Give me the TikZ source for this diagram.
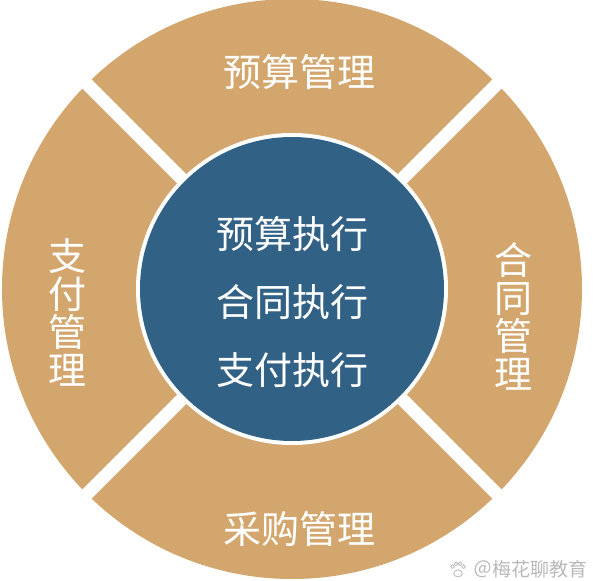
\documentclass[tikz,border=0pt]{standalone}
\usepackage{fontspec}
\newfontfamily\cjk{Noto Sans CJK SC}
\definecolor{tan}{RGB}{211,166,110}
\definecolor{deepblue}{RGB}{50,97,134}
\definecolor{wmgray}{RGB}{185,185,185}
\begin{document}
\begin{tikzpicture}[x=1pt,y=1pt,
  lbl/.style={text=white,font=\fontsize{38}{38}\selectfont\cjk,inner sep=0pt,align=center},
  mid/.style={text=white,font=\fontsize{38}{68}\selectfont\cjk,inner sep=0pt,align=center},
  gap/.style={white,line width=13pt}]
\useasboundingbox (-292,-292) rectangle (303,289);
% outer disk
\fill[tan] (0,0) circle (290);
% diagonal gaps
\coordinate (g1a) at (-206,206);
\coordinate (g1b) at (206,-206);
\coordinate (g2a) at (-206,-206);
\coordinate (g2b) at (206,206);
\draw[gap] (g1a) -- (g1b);
\draw[gap] (g2a) -- (g2b);
% inner circle
\fill[white] (0,0) circle (156);
\node[circle,fill=deepblue,minimum size=304pt,inner sep=0pt] (core) at (0,0) {};
% outer labels
\node[lbl] (top) at (8,217) {预算管理};
\node[lbl] (bottom) at (8,-240) {采购管理};
\node[lbl] (left) at (-224,-23) {支\\付\\管\\理};
\node[lbl] (right) at (222,-27) {合\\同\\管\\理};
% center text
\node[mid] (centertext) at (1,-13) {预算执行\\合同执行\\支付执行};
% watermark
\node[text=wmgray,font=\fontsize{19}{19}\selectfont\cjk,inner sep=0pt,anchor=east] (wm) at (296,-280) {＠梅花聊教育};
\begin{scope}[shift={(166,-281)},scale=1.35,wmgray,line width=0.8pt]
  \draw (0,-2.5) ellipse (3.2 and 2.6);
  \draw (-4,2.5) circle (1.4);
  \draw (-1.4,4.6) circle (1.4);
  \draw (1.6,4.6) circle (1.4);
  \draw (4.2,2.5) circle (1.4);
\end{scope}
\end{tikzpicture}
\end{document}
